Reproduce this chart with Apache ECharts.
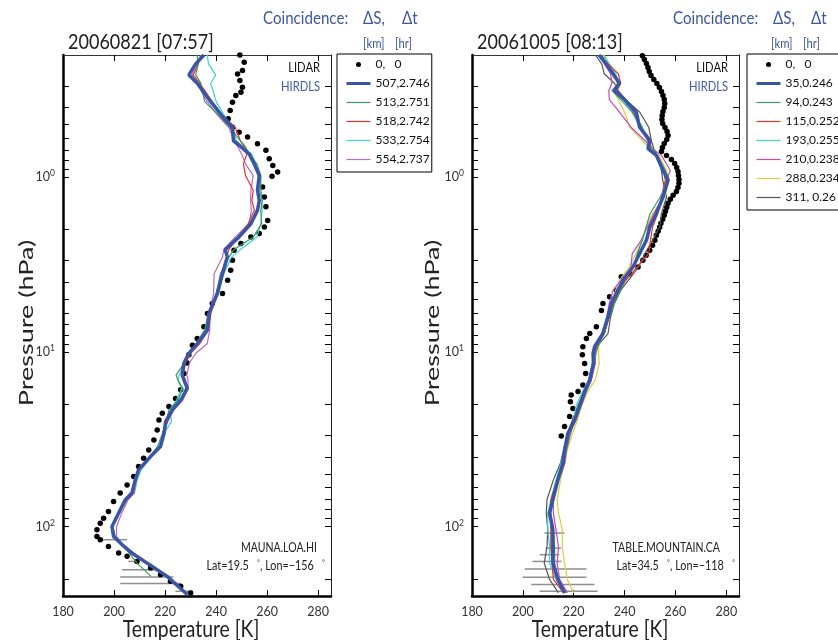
<!DOCTYPE html>
<html>
<head>
<meta charset="utf-8">
<script src="https://cdn.jsdelivr.net/npm/echarts@6/dist/echarts.min.js"></script>
<style>html,body{margin:0;padding:0;background:#fff}#c{width:838px;height:640px}</style>
</head>
<body>
<div id="c"></div>
<script>
// ---------------- DATA ----------------
// Panel A: 20060821 Mauna Loa
const lidarA_P = [0.2,0.22,0.245,0.257,0.28,0.306,0.327,0.341,0.373,0.416,0.464,0.518,0.553,0.59,0.644,0.703,0.785,0.857,0.936,0.99,1.14,1.3,1.48,1.77,1.93,2.1,2.2,2.4,2.62,2.99,3.41,3.89,4.64,5.29,6.03,7.2,8.38,9.16,10.4,11.6,13.3,16.5,18.5,20.6,22.5,24.6,28,32,36.5,40.7,45.4,51.8,57.8,64.4,72,82,89.6,95.7,104.4,114,119,130,142,148,158.5,173,189,206,220,240];
const lidarA_T = [249.3,251,250.3,248.4,249.3,250.3,249.7,247.7,246.4,245.5,244.7,246.4,249,252.3,256.2,259.5,260.8,262.2,264.1,261.9,258.2,258.9,259.5,260.2,258.9,256.9,253.6,249.7,247,246.4,245.7,244.5,242.5,238.5,236.6,235.2,232.6,230.7,229.3,228.7,227.4,226.1,224.1,221.5,218.9,217.6,216.9,215.6,213.6,211.6,209.6,207.7,205.1,202.4,199.8,197.8,195.9,194.6,193.3,193.3,194.6,197.8,201.8,205.1,209,214.3,218.2,222.1,226.1,230];
const hirdlsA_P = [0.2,0.225,0.26,0.29,0.37,0.45,0.52,0.62,0.67,0.74,0.84,0.98,1.19,1.36,1.55,1.85,2.2,2.6,2.87,3.57,4.64,6.0,7.5,9.0,10.2,11.6,13.6,14.5,16.2,18.9,21.5,25.1,29.3,34.9,39.8,47.4,54.1,64.4,70.3,83.8,100,114,127,142,162,193,245];
const namesA = ['507,2.746','513,2.751','518,2.742','533,2.754','554,2.737'];
const tA_507 = [235.2,232,229.3,232.6,237.9,242.5,246.4,246.8,249.7,253,254.9,256.9,256.2,256.9,256.2,253.6,249,243.5,244.4,242.5,240.5,237.2,236.6,232.6,229.3,227.4,226.7,227.4,228.7,226.1,222.8,220.2,219.6,218.2,214.3,209.6,208.3,207,204.4,201.8,199.2,199.8,203.1,207,212.9,220.8,228.7];
const tA_513 = [232.5,233,232,234,235.5,241.5,245.5,249.5,251.5,253,256,257.5,257.5,258,257.5,257.8,254.6,247,245,241.7,240,237,235.5,232,229.5,227.5,224.3,225,227,225,221.5,220.5,219,217,214,210,208,207.2,204.5,201.5,199.5,200.5,203,206,209,214.5];
const tA_518 = [234,233,231,233.5,238.5,243,247.5,249.5,251,252,250.7,251.5,254.5,254,255,252.5,248.5,245,244,242,240.5,238,237,233.5,230,228,227,228,228,226.5,223,221,219,218,214.5,210,208.5,207.5,205,202,199.5,200,203.5,207.8,213.5,220.5,228.5];
const tA_533 = [236.5,237,239.8,237.9,240,243.5,246.5,248,250.5,254,255.5,257.5,257,258,258,257.5,256,249.5,246,243,240,237.5,236,233,230,227.5,225.5,225,226.5,224.5,222,222.5,219.5,217.5,214.5,210.5,209,207.5,205,202,199.5,200,203,207,213,221,229];
const tA_554 = [234,233,230.5,232.5,236.5,241,245,247,248.5,250,251.5,254.5,253.6,253.5,253.8,253,247.5,243,242.5,239.2,239,237.5,237.5,236.5,232,229.5,228.5,229,229,227,223.5,221,219.5,218,214.5,210.5,209,208,205.5,203,201,201,203.5,207.5,213,221,229];
const errA_P  = [119,158.5,177,194.6,212,235];
const errA_lo = [194.6,205.6,203.1,202.4,202.4,224];
const errA_hi = [205.1,209.5,217.5,223.3,226,231];

// Panel B: 20061005 Table Mountain
const lidarB_P = [0.2017,0.2125,0.224,0.2361,0.2489,0.2623,0.2765,0.2914,0.3072,0.3238,0.3413,0.3597,0.3792,0.3997,0.4213,0.4441,0.4681,0.4933,0.52,0.5481,0.5777,0.609,0.6419,0.6765,0.7131,0.7516,0.7923,0.8351,0.8802,0.9278,0.9779,1.031,1.086,1.145,1.207,1.272,1.341,1.413,1.49,1.57,1.655,1.745,1.839,1.938,2.043,2.154,2.3,2.457,2.624,2.803,2.992,3.27,3.57,3.72,4.44,4.84,5.29,5.8,7.2,7.86,8.4,9.36,10.4,11.65,13.3,15.5,16.9,17.7,19.3,21.1,23.5,26.8,30.3];
const lidarB_T = [247,247.8,248.6,249.2,249.7,250.4,251.5,252.7,253.7,254.5,255.1,255.6,255.8,255.6,255.1,254.8,254.7,255,255.9,256.7,257.1,256.6,255.6,254.9,254.5,256.5,258.4,259.7,260.5,261,261.2,261.4,261.4,261,260.4,259.1,258,257.1,256.6,256.1,255.6,255,254.3,253.8,253.2,252.5,251.9,251,249.9,248.5,247.2,245.3,242,238.7,236.8,234.1,231.5,230.9,228.9,226.3,225,223.6,223.4,224.3,224.7,223.6,221.7,219,218.7,219.7,218.4,216.4,215.1];
const hirdlsB_P = [0.2,0.225,0.256,0.29,0.32,0.36,0.425,0.518,0.617,0.688,0.751,0.916,1.04,1.3,1.62,1.93,2.3,2.74,3.27,3.9,4.44,5.29,6.31,7.86,9.36,10.2,11.65,14.5,16.9,20.6,24.6,29.3,36.5,43.3,54.1,70.3,83.8,104,130,162,201,240];
const namesB = ['35,0.246','94,0.243','115,0.252','193,0.255','210,0.238','288,0.234','311, 0.26'];
const tB_35  = [229.9,232.8,235.4,238,236,240,244.6,245.9,249.9,249.2,252.5,255.1,257.1,255.1,252.5,249.9,248.6,245.9,243.3,239.4,237.4,234.8,233.5,231.5,228.2,227.6,227.8,226.3,224.3,222.3,220.4,217.7,216.4,215.8,213.8,211.8,210.5,211.8,211.8,211.8,213.8,216.4];
const tB_94  = [231,233,236,237.5,235,238.5,243,247,249,251,253,256,257.5,254,250,248.5,247,245,243.5,240,238.5,236,234,232,229.5,228.8,228,226.8,224.8,222.5,220.8,218.5,217,216,213.5,211.5,211,212,212.5,212.5,214,217];
const tB_115 = [230.5,233.5,237.5,238.5,237,240.5,243.5,246.5,250.5,250,252.8,255.5,256,254.5,253,251,250.2,249.5,245,240.5,238,235.5,234,232,228.8,228,227.5,226,224.5,222,220,218,216.8,215.5,213.5,211,210.8,211,211,211.5,212,216];
const tB_193 = [231.5,234,236.5,237.5,236.5,239.5,243,246,249,249.5,252,256,256.5,255.5,252,250.5,248,246.5,243.5,239.5,237,235.5,233,231,228.5,228,227.2,225.8,223.5,220.8,220,218,216.5,215,213,211,209.8,209.8,210.5,210.5,213,216];
const tB_210 = [230.5,232,234.5,235,233.8,234,238,242.5,248,251,254.5,258,256.5,255,251.5,249,246.5,243,242.5,238.5,235.5,234,233,231.5,229,228.3,228.5,227,225,222.8,220.5,218.8,217.2,216.5,214,212,212,213,214,213.5,214.5,217.5];
const tB_288 = [232,234,236,237,236,237.5,240,242,247,250,253.5,256.5,257.5,255.8,251,248.5,246.8,244.5,241.8,238,236.5,234.5,233,231,229.8,229.8,230,228.5,225.5,223,221.5,219.5,217.5,216.5,214.8,213.5,214,215.5,215.5,216.4,217.5,220];
const tB_311 = [228.5,231,232,236,237.5,240.5,246,249.5,250.5,251.5,253,254.5,255,256.5,254.5,253.8,251,248,245.5,241.5,238.5,236,234.5,233.5,229,228.5,228.2,226.5,224,221.5,219.5,217.5,216,214.8,212,209.5,209.2,209.8,209.5,208.4,210.5,214];
const errB_P  = [109,133,145,158.5,175,195,215,235];
const errB_lo = [208.5,209,206.6,203.8,200.7,199.9,203.3,206.6];
const errB_hi = [216.4,215,214.3,215.2,225,225,228.2,229.4];

// Axis tick values
const xTickVals = [180,200,220,240,260,280];
const yMinorP = [0.3,0.4,0.5,0.6,0.7,0.8,0.9,1,2,3,4,5,6,7,8,9,10,20,30,40,50,60,70,80,90,100,200];
const yLabelExp = [0,1,2];
const P_MIN = 0.2, P_MAX = 250;

// ---------------- BUILD ----------------
const FONT = 'Lato';
const L10 = Math.log10;
const pts = (T, P) => T.map((t, i) => [t, L10(P[i])]);
const BLUE = '#3b55a6';

function lineSeries(name, T, P, color, width, xi, yi, z) {
  return {type:'line', name, data: pts(T, P), xAxisIndex: xi, yAxisIndex: yi,
    showSymbol:false, symbol:'none', z: z,
    lineStyle:{color, width}, itemStyle:{color}, animation:false};
}
function errSeries(P, lo, hi, xi, yi) {
  return {type:'custom', xAxisIndex:xi, yAxisIndex:yi, z:1,
    data: P.map((p, i) => [lo[i], hi[i], L10(p)]),
    encode:{x:[0,1], y:2},
    renderItem:(params, api) => {
      const a = api.coord([api.value(0), api.value(2)]);
      const b = api.coord([api.value(1), api.value(2)]);
      return {type:'line', shape:{x1:a[0], y1:a[1], x2:b[0], y2:b[1]},
        style:{stroke:'#8f8f8f', lineWidth:1.5}};
    }, silent:true, animation:false};
}
function lidarSeries(T, P, xi, yi) {
  return {type:'scatter', name:'0,   0', data: pts(T, P), xAxisIndex:xi, yAxisIndex:yi,
    symbol:'circle', symbolSize:5.5, itemStyle:{color:'#000', opacity:1}, z:2, animation:false};
}

function xAxes(g) {
  return [
    {type:'value', gridIndex:g, min:180, max:285, position:'bottom',
     axisLine:{show:true, onZero:false, lineStyle:{color:'#000', width:2.5}},
     axisTick:{show:true, inside:true, length:6, customValues:xTickVals, lineStyle:{color:'#000'}},
     axisLabel:{customValues:xTickVals, fontFamily:FONT, fontSize:12.5, color:'#333', margin:9},
     splitLine:{show:false}},
    {type:'value', gridIndex:g, min:180, max:285, position:'top',
     axisLine:{show:true, onZero:false, lineStyle:{color:'#333', width:1}},
     axisTick:{show:true, inside:true, length:6, customValues:xTickVals, lineStyle:{color:'#000'}},
     axisLabel:{show:false}, splitLine:{show:false}}
  ];
}
function yAxes(g) {
  const common = {type:'value', gridIndex:g, inverse:true, min:L10(P_MIN), max:L10(P_MAX), splitLine:{show:false}};
  return [
    Object.assign({}, common, {position:'left',
      axisLine:{show:true, onZero:false, lineStyle:{color:'#000', width:2.5}},
      axisTick:{show:true, inside:true, length:6, customValues:yMinorP.map(L10), lineStyle:{color:'#000'}},
      axisLabel:{customValues:yLabelExp, margin:8,
        formatter: v => '{b|10}{s|' + Math.round(v) + '}',
        rich:{b:{fontFamily:FONT, fontSize:12.5, color:'#333', lineHeight:16},
              s:{fontFamily:FONT, fontSize:8.5, color:'#333', verticalAlign:'top', lineHeight:16, padding:[0,0,6,0]}}}}),
    Object.assign({}, common, {position:'right',
      axisLine:{show:true, onZero:false, lineStyle:{color:'#222', width:1}},
      axisTick:{show:true, inside:true, length:6, customValues:yMinorP.map(L10), lineStyle:{color:'#000'}},
      axisLabel:{show:false}})
  ];
}

const colorsA = [BLUE, '#3a9a60', '#e5342c', '#38d4d0', '#b56cc8'];
const colorsB = [BLUE, '#3a9a60', '#e5342c', '#38d4d0', '#c848c0', '#d6d040', '#555555'];
const tA = [tA_507, tA_513, tA_518, tA_533, tA_554];
const tB = [tB_35, tB_94, tB_115, tB_193, tB_210, tB_288, tB_311];

const series = [];
series.push(errSeries(errA_P, errA_lo, errA_hi, 0, 0));
series.push(lidarSeries(lidarA_T, lidarA_P, 0, 0));
for (let i = tA.length - 1; i >= 0; i--) series.push(lineSeries(namesA[i], tA[i], hirdlsA_P, colorsA[i], i === 0 ? 3.5 : 1.2, 0, 0, i === 0 ? 5 : 3));
series.push(errSeries(errB_P, errB_lo, errB_hi, 2, 2));
series.push(lidarSeries(lidarB_T, lidarB_P, 2, 2));
for (let i = tB.length - 1; i >= 0; i--) series.push(lineSeries(namesB[i], tB[i], hirdlsB_P, colorsB[i], i === 0 ? 3.5 : 1.2, 2, 2, i === 0 ? 5 : 3));

function legendData(names, colors) {
  const d = [{name:'0,   0', icon:'circle', itemStyle:{color:'#000', opacity:1}}];
  names.forEach((n, i) => d.push({name:n,
    itemStyle:{color:'rgba(0,0,0,0)', borderWidth:0, opacity:0},
    lineStyle:{width: i === 0 ? 3 : 1.2, color: colors[i], opacity:1}}));
  return d;
}
const legendCommon = {orient:'vertical', borderColor:'#000', borderWidth:1, backgroundColor:'#fff',
  padding:[3,2,5,8], itemWidth:24, itemHeight:5, itemGap:4, selectedMode:false,
  textStyle:{fontFamily:FONT, fontSize:12, color:'#111', lineHeight:15}};

const T = (x, y, text, opts, sx) => ({type:'text', x, y, scaleX: sx || 1,
  style:Object.assign({text, fontFamily:FONT, fill:'#222', verticalAlign:'middle'}, opts)});
const blueTxt = '#3d56a6';
const graphic = [
  T(68, 42, '20060821 [07:57]', {fontSize:22}, 0.82),
  T(477, 42, '20061005 [08:13]', {fontSize:22}, 0.82),
  T(263, 18, 'Coincidence:', {fontSize:18, fill:blueTxt}, 0.84),
  T(363, 18, 'ΔS,', {fontSize:18, fill:blueTxt}, 0.84),
  T(402, 18, 'Δt', {fontSize:18, fill:blueTxt}, 0.84),
  T(363, 44, '[km]', {fontSize:12.5, fill:blueTxt}, 0.9),
  T(395, 44, '[hr]', {fontSize:12.5, fill:blueTxt}, 0.9),
  T(673, 18, 'Coincidence:', {fontSize:18, fill:blueTxt}, 0.84),
  T(773, 18, 'ΔS,', {fontSize:18, fill:blueTxt}, 0.84),
  T(811, 18, 'Δt', {fontSize:18, fill:blueTxt}, 0.84),
  T(771, 44, '[km]', {fontSize:12.5, fill:blueTxt}, 0.9),
  T(803, 44, '[hr]', {fontSize:12.5, fill:blueTxt}, 0.9),
  T(320, 67, 'LIDAR', {fontSize:14, fill:'#111', align:'right'}, 0.8),
  T(320, 86, 'HIRDLS', {fontSize:14, fill:blueTxt, align:'right'}, 0.8),
  T(728, 67, 'LIDAR', {fontSize:14, fill:'#111', align:'right'}, 0.8),
  T(728, 86, 'HIRDLS', {fontSize:14, fill:blueTxt, align:'right'}, 0.8),
  T(317, 548, 'MAUNA.LOA.HI', {fontSize:13.5, fill:'#222', align:'right'}, 0.78),
  T(325, 566, 'Lat=19.5   {s|°}, Lon=−156   {s|°}', {fontSize:13.5, fill:'#222', align:'right',
     rich:{s:{fontSize:9, verticalAlign:'top', padding:[0,0,4,0]}}}, 0.8),
  T(720, 548, 'TABLE.MOUNTAIN.CA', {fontSize:13.5, fill:'#222', align:'right'}, 0.78),
  T(735, 566, 'Lat=34.5   {s|°}, Lon=−118   {s|°}', {fontSize:13.5, fill:'#222', align:'right',
     rich:{s:{fontSize:9, verticalAlign:'top', padding:[0,0,4,0]}}}, 0.8),
  // axis titles
  T(191, 630, 'Temperature [K]', {fontSize:23, align:'center'}, 0.84),
  T(600, 630, 'Temperature [K]', {fontSize:23, align:'center'}, 0.84),
  Object.assign(T(27, 323, 'Pressure (hPa)', {fontSize:20, align:'center'}, 1.35), {rotation:Math.PI/2}),
  Object.assign(T(433, 323, 'Pressure (hPa)', {fontSize:20, align:'center'}, 1.35), {rotation:Math.PI/2})
];

const option = {
  animation:false,
  backgroundColor:'#fff',
  grid:[{left:63, top:55, width:268, height:541, containLabel:false, outerBoundsMode:'none'},
        {left:472, top:55, width:267, height:541, containLabel:false, outerBoundsMode:'none'}],
  xAxis:[...xAxes(0), ...xAxes(1)],
  yAxis:[...yAxes(0), ...yAxes(1)],
  legend:[
    Object.assign({}, legendCommon, {left:337, top:54, data:legendData(namesA, colorsA)}),
    Object.assign({}, legendCommon, {left:747, top:54, data:legendData(namesB, colorsB)})
  ],
  graphic,
  series
};
const chart = echarts.init(document.getElementById('c'), null, {renderer:'canvas'});
chart.setOption(option);
</script>
</body>
</html>
